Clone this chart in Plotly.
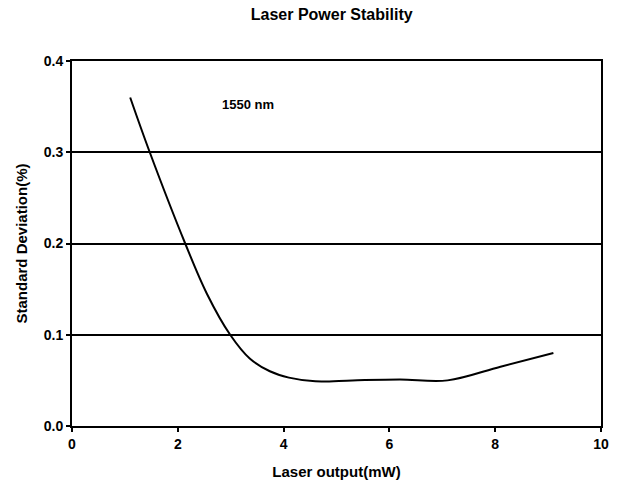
import plotly.graph_objects as go

# Data
laser_output_mw = [1.10, 1.47, 2.14, 2.55, 2.99, 3.36, 3.74, 4.10, 4.60, 5.30, 6.20, 7.10, 8.10, 9.10]
std_dev_pct = [0.360, 0.300, 0.200, 0.145, 0.100, 0.074, 0.060, 0.053, 0.049, 0.050, 0.051, 0.050, 0.065, 0.080]

x_ticks = [0, 2, 4, 6, 8, 10]
y_ticks = [0.0, 0.1, 0.2, 0.3, 0.4]
y_tick_text = ["0.0", "0.1", "0.2", "0.3", "0.4"]

FONT = "Liberation Sans, Arial, sans-serif"

fig = go.Figure()
fig.add_trace(go.Scatter(
    x=laser_output_mw, y=std_dev_pct, mode="lines",
    line=dict(color="black", width=2, shape="spline", smoothing=1.0),
    showlegend=False, hoverinfo="skip",
))

fig.add_annotation(x=3.33, y=0.352, text="<b>1550 nm</b>", showarrow=False,
                   font=dict(family=FONT, size=13, color="black"))

fig.update_layout(
    width=620, height=486,
    margin=dict(l=72, r=19, t=61, b=60),
    paper_bgcolor="white", plot_bgcolor="white",
    title=dict(text="<b>Laser Power Stability</b>", x=0.535, xanchor="center",
               y=1 - 14 / 486, yanchor="middle",
               font=dict(family=FONT, size=16, color="black")),
    font=dict(family=FONT, color="black"),
)
fig.update_xaxes(
    range=[0, 10], tickvals=x_ticks, ticktext=[f"<b>{t}</b>" for t in x_ticks],
    showline=True, linecolor="black", linewidth=2, mirror=True,
    ticks="outside", ticklen=4, tickwidth=1.5, tickcolor="black",
    showgrid=False, zeroline=False, automargin=False,
    tickfont=dict(family=FONT, size=14, color="black"),
    title=dict(text="<b>Laser output(mW)</b>", font=dict(family=FONT, size=15, color="black"), standoff=16),
)
fig.update_yaxes(
    range=[0, 0.4], tickvals=y_ticks, ticktext=[f"<b>{t}</b>" for t in y_tick_text],
    showline=True, linecolor="black", linewidth=2, mirror=True,
    ticks="outside", ticklen=4, tickwidth=1.5, tickcolor="black",
    showgrid=True, gridcolor="black", gridwidth=2, zeroline=False, automargin=False,
    tickfont=dict(family=FONT, size=14, color="black"),
    title=dict(text="<b>Standard Deviation(%)</b>", font=dict(family=FONT, size=15, color="black"), standoff=12),
)

fig.write_html("out.html", config={"displayModeBar": False},
               post_script="document.body.style.margin='0';document.body.style.overflow='hidden';")
